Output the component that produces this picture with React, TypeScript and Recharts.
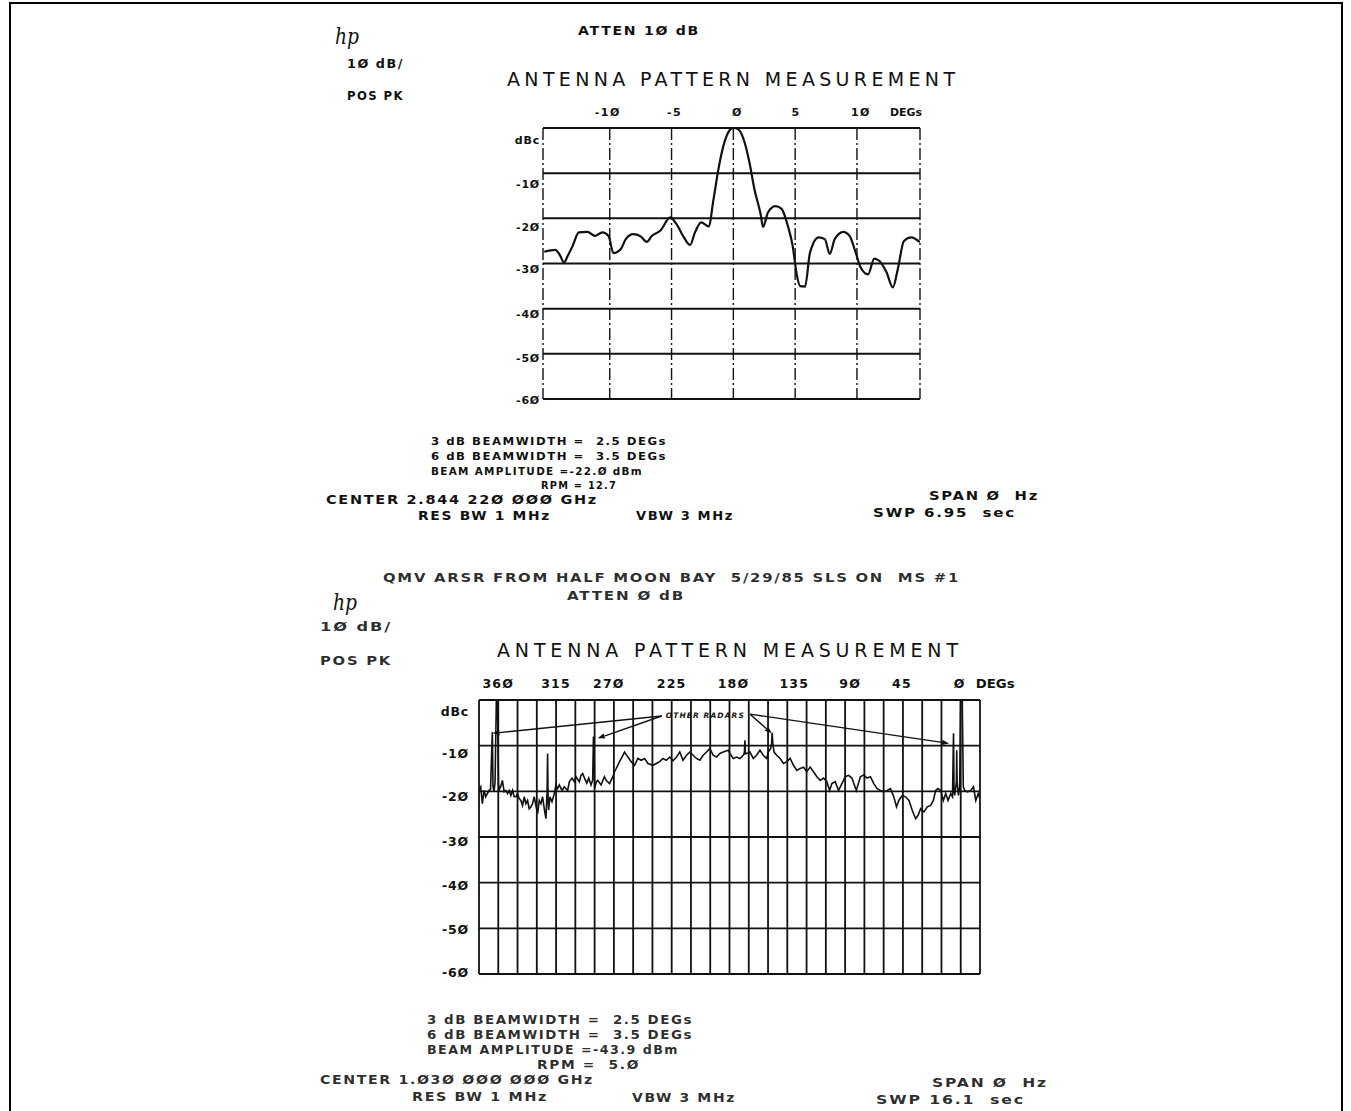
import React from 'react';
import { LineChart, Line, XAxis, YAxis, ReferenceLine, ReferenceDot } from 'recharts';

// ---------------- DATA ----------------
// Top plot: antenna pattern vs angle (deg), level in dBc
const topAngles = [
  -15.3, -14.4, -14.0, -13.7, -13.4, -13.0, -12.5, -11.8, -11.2, -10.6,
  -10.1, -9.7, -9.1, -8.7, -8.1, -7.5, -7.0, -6.6, -5.9, -5.1,
  -4.6, -4.0, -3.5, -3.1, -2.6, -2.0, -1.6, -1.2, -0.8, -0.3,
  0, 0.4, 0.9, 1.3, 1.7, 2.2, 2.4, 2.8, 3.4, 3.9,
  4.4, 4.8, 5.1, 5.4, 5.8, 6.2, 6.9, 7.4, 7.8, 8.2,
  8.9, 9.4, 9.9, 10.3, 10.9, 11.4, 11.8, 12.4, 12.9, 13.3,
  13.8, 14.4, 15.1,
];
const topLevels = [
  -27.4, -27.0, -28.3, -29.8, -28.3, -26.1, -23.1, -23.0, -23.9, -23.1,
  -23.9, -27.7, -26.8, -24.6, -23.5, -24.0, -25.2, -23.9, -22.7, -19.8,
  -21.3, -24.2, -25.9, -23.1, -20.9, -21.8, -15.7, -9.0, -3.9, -0.5,
  0, -0.3, -3.1, -7.6, -13.5, -19.0, -21.9, -18.7, -17.3, -17.9,
  -21.6, -26.1, -32.0, -35.0, -35.1, -27.6, -24.2, -24.6, -27.9, -24.6,
  -23.0, -23.9, -27.6, -30.9, -32.4, -28.9, -29.4, -32.0, -35.3, -31.3,
  -25.0, -24.2, -25.3,
];
const topTickValues = [-10, -5, 0, 5, 10];
const topTickLabels = ['-1Ø', '-5', 'Ø', '5', '1Ø'];
const topAxisUnit = 'DEGs';
const topDomain = [-15.4, 15.1];
const topVerticals = [-15.4, -10, -5, 0, 5, 10, 15.1];

const levelTicks = [0, -10, -20, -30, -40, -50, -60];
const levelTickLabels = ['dBc', '-1Ø', '-2Ø', '-3Ø', '-4Ø', '-5Ø', '-6Ø'];

// Bottom plot: full rotation, azimuth (deg) vs level
const bottomAngles = [
  375, 373.7, 372.4, 371.1, 369.8, 368.5, 367.2, 366.0, 365.2, 364.6,
  364.1, 363.3, 362.5, 361.5, 360.6, 359.8, 359.0, 358.1, 356.8, 355.4,
  354.1, 352.8, 351.5, 350.2, 348.9, 347.6, 346.3, 345.0, 343.7, 342.4,
  341.1, 339.8, 338.5, 337.2, 335.9, 334.6, 333.3, 332.0, 330.7, 329.4,
  328.1, 326.8, 325.5, 324.2, 322.9, 322.0, 321.6, 321.2, 320.8, 319.8,
  318.2, 316.4, 315.1, 313.8, 312.5, 310.4, 308.6, 306.0, 304.7, 302.6,
  300.8, 299.5, 296.9, 295.6, 294.3, 292.9, 291.1, 289.6, 287.8, 286.5,
  285.9, 285.4, 285.0, 283.8, 282.6, 280.0, 277.4, 276.0, 273.4, 270.8,
  269.5, 268.2, 265.6, 263.0, 261.7, 259.1, 256.5, 253.9, 251.3, 248.7,
  246.1, 243.5, 239.6, 237.0, 234.4, 231.8, 229.2, 226.6, 224.0, 221.3,
  218.7, 216.2, 213.5, 210.9, 208.3, 205.7, 203.1, 200.5, 197.9, 195.3,
  192.7, 190.1, 187.5, 184.9, 181.0, 179.7, 177.1, 174.5, 171.9, 169.3,
  168.4, 168.0, 167.6, 166.7, 164.1, 161.5, 158.9, 156.3, 153.7, 151.1,
  149.8, 147.9, 147.2, 146.8, 146.2, 145.3, 143.3, 140.6, 138.0, 135.4,
  132.8, 130.2, 127.6, 125.0, 122.4, 119.8, 117.2, 114.6, 112.0, 109.4,
  106.8, 104.2, 102.1, 100.3, 97.7, 95.1, 92.5, 89.9, 87.3, 84.7,
  81.3, 78.1, 75.5, 72.9, 70.3, 67.7, 65.1, 62.5, 59.9, 57.3,
  54.7, 52.1, 50.0, 48.2, 45.5, 42.9, 40.3, 37.7, 35.1, 33.3,
  31.2, 28.6, 26.0, 23.4, 21.3, 19.5, 17.7, 15.6, 13.5, 11.7,
  9.9, 7.8, 6.4, 5.9, 5.6, 5.2, 4.7, 3.4, 3.1, 2.8,
  1.8, 0.8, 0.2, -1.2, -2.0, -3.1, -5.2, -7.8, -9.9, -11.7,
  -13.6, -15.0,
];
const bottomLevels = [
  -19.5, -19.0, -22.7, -19.8, -21.2, -20.5, -19.8, -19.5, -12.0, -7.0,
  -19.0, -20.0, -18.0, -0.3, -0.3, -18.5, -19.5, -19.0, -17.6, -20.1,
  -19.8, -20.5, -19.8, -20.9, -19.8, -21.2, -21.2, -20.5, -21.6, -22.0,
  -23.1, -21.2, -22.7, -22.0, -23.8, -23.4, -22.7, -21.2, -23.1, -24.9,
  -22.0, -22.7, -21.2, -23.8, -26.0, -20.0, -11.7, -22.0, -24.1, -21.2,
  -22.3, -20.5, -18.6, -19.4, -18.6, -19.8, -19.0, -19.8, -17.9, -17.1,
  -17.9, -16.8, -17.9, -16.5, -16.1, -17.1, -18.2, -17.1, -18.6, -17.5,
  -8.0, -10.0, -19.4, -18.0, -17.6, -18.6, -16.8, -17.6, -18.3, -16.8,
  -15.7, -15.0, -13.5, -12.1, -11.4, -12.5, -13.5, -14.3, -12.8, -13.2,
  -12.8, -13.9, -14.3, -13.9, -13.5, -12.8, -13.2, -12.5, -13.3, -12.5,
  -11.4, -13.2, -12.1, -11.4, -12.1, -12.8, -13.2, -12.1, -11.4, -10.6,
  -12.1, -12.5, -11.7, -11.4, -11.0, -11.7, -12.8, -12.5, -12.8, -12.1,
  -11.5, -8.8, -11.8, -11.7, -11.4, -12.8, -12.1, -11.0, -12.1, -12.8,
  -11.4, -10.6, -9.5, -7.2, -9.8, -11.4, -12.1, -12.8, -13.9, -13.5,
  -12.8, -14.3, -15.4, -15.0, -14.7, -15.7, -14.7, -15.7, -16.8, -17.6,
  -17.1, -17.9, -19.8, -18.3, -17.9, -19.8, -18.3, -16.8, -16.5, -17.1,
  -19.8, -16.8, -16.4, -17.1, -16.8, -18.3, -19.4, -19.8, -20.1, -19.8,
  -19.4, -21.2, -23.4, -22.0, -20.9, -21.2, -22.0, -24.2, -26.0, -25.3,
  -23.8, -24.5, -23.4, -23.1, -22.0, -19.8, -19.4, -19.8, -22.0, -20.5,
  -22.0, -20.5, -21.2, -12.0, -7.3, -20.0, -20.9, -18.0, -11.0, -18.0,
  -20.9, -19.0, -0.4, -0.4, -19.0, -19.8, -20.1, -19.8, -19.0, -22.0,
  -20.5, -21.6,
];
const bottomTickValues = [360, 315, 270, 225, 180, 135, 90, 45, 0];
const bottomTickLabels = ['36Ø', '315', '27Ø', '225', '18Ø', '135', '9Ø', '45', 'Ø'];
const bottomAxisUnit = 'DEGs';
const bottomDomain = [-15, 375];
const bottomVerticals = [
  -15, 0, 15, 30, 45, 60, 75, 90, 105, 120, 135, 150, 165, 180,
  195, 210, 225, 240, 255, 270, 285, 300, 315, 330, 345, 360, 375,
];

const radarLabel = 'OTHER RADARS';
const radarLabelAt = { x: 199.2, y: -3.3 };
const radarArrowFrom = [
  { x: 232.8, y: -3.5 }, { x: 232.8, y: -3.5 }, { x: 164.0, y: -3.1 }, { x: 164.0, y: -3.1 },
];
const radarArrowTo = [
  { x: 364.5, y: -7.3 }, { x: 282.6, y: -8.4 }, { x: 147.1, y: -7.3 }, { x: 9.1, y: -9.5 },
];

// Page texts (content)
const topPageTexts = [
  { t: 'ATTEN 1Ø dB', x: 578, cy: 31, w: 122, s: 11.5 },
  { t: '1Ø dB/', x: 347, cy: 64, w: 57, s: 11.5 },
  { t: 'POS PK', x: 347, cy: 96, w: 57, s: 11.5 },
  { t: 'ANTENNA PATTERN MEASUREMENT', x: 507, cy: 79, w: 448, s: 19, thin: true },
  { t: '3 dB BEAMWIDTH =  2.5 DEGs', x: 431, cy: 441, w: 236, s: 11 },
  { t: '6 dB BEAMWIDTH =  3.5 DEGs', x: 431, cy: 456, w: 236, s: 11 },
  { t: 'BEAM AMPLITUDE =-22.Ø dBm', x: 431, cy: 471, w: 212, s: 11 },
  { t: 'RPM = 12.7', x: 541, cy: 485, w: 76, s: 11 },
  { t: 'CENTER 2.844 22Ø ØØØ GHz', x: 326, cy: 500, w: 272, s: 12 },
  { t: 'RES BW 1 MHz', x: 418, cy: 516, w: 133, s: 11.5 },
  { t: 'VBW 3 MHz', x: 636, cy: 516, w: 98, s: 11.5 },
  { t: 'SPAN Ø  Hz', x: 929, cy: 496, w: 110, s: 12 },
  { t: 'SWP 6.95  sec', x: 873, cy: 513, w: 143, s: 11.5 },
];
const bottomPageTexts = [
  { t: 'QMV ARSR FROM HALF MOON BAY  5/29/85 SLS ON  MS #1', x: 383, cy: 578, w: 577, s: 12 },
  { t: 'ATTEN Ø dB', x: 567, cy: 596, w: 118, s: 12 },
  { t: '1Ø dB/', x: 320, cy: 627, w: 72, s: 12 },
  { t: 'POS PK', x: 320, cy: 661, w: 72, s: 12 },
  { t: 'ANTENNA PATTERN MEASUREMENT', x: 497, cy: 650, w: 461, s: 19, thin: true },
  { t: '3 dB BEAMWIDTH =  2.5 DEGs', x: 427, cy: 1020, w: 266, s: 12 },
  { t: '6 dB BEAMWIDTH =  3.5 DEGs', x: 427, cy: 1035, w: 266, s: 12 },
  { t: 'BEAM AMPLITUDE =-43.9 dBm', x: 427, cy: 1050, w: 252, s: 12 },
  { t: 'RPM =  5.Ø', x: 537, cy: 1065, w: 103, s: 12 },
  { t: 'CENTER 1.Ø3Ø ØØØ ØØØ GHz', x: 320, cy: 1080, w: 274, s: 12 },
  { t: 'RES BW 1 MHz', x: 412, cy: 1097, w: 136, s: 12 },
  { t: 'VBW 3 MHz', x: 632, cy: 1098, w: 104, s: 12 },
  { t: 'SPAN Ø  Hz', x: 932, cy: 1083, w: 116, s: 12 },
  { t: 'SWP 16.1  sec', x: 876, cy: 1100, w: 149, s: 12 },
];

// ---------------- STYLE ----------------
const FONT = '"DejaVu Sans", "Liberation Sans", sans-serif';
const INK = '#111';
const topXDx = [-2, 3, 4, 1, 4];
const bottomXDx = [0, 0, -5, 0, 4, 7, 5, -1, -1];
const topYOff = [12, 11, 9, 6, 5, 4, 1];
const bottomYOff = [11, 8, 5, 4, 3, 1, -2];

const topData = topAngles.map((a, i) => ({ deg: a, db: topLevels[i] }));
const bottomData = bottomAngles.map((a, i) => ({ deg: a, db: bottomLevels[i] }));

const TopXTick = (props: any) => {
  const { x, y, payload } = props;
  const i = topTickValues.indexOf(payload.value);
  if (i < 0) return null;
  return (
    <g>
      <text x={x + topXDx[i]} y={y - 12.5} textAnchor="middle" fontFamily={FONT} fontWeight="bold" fontSize={11} letterSpacing={1.5} fill={INK}>
        {topTickLabels[i]}
      </text>
      {i === topTickValues.length - 1 && (
        <text x={x + 33} y={y - 12.5} fontFamily={FONT} fontWeight="bold" fontSize={11} textLength={32} lengthAdjust="spacingAndGlyphs" fill={INK}>
          {topAxisUnit}
        </text>
      )}
    </g>
  );
};

const BottomXTick = (props: any) => {
  const { x, y, payload } = props;
  const i = bottomTickValues.indexOf(payload.value);
  if (i < 0) return null;
  return (
    <g>
      <text x={x + bottomXDx[i]} y={y - 12.5} textAnchor="middle" fontFamily={FONT} fontWeight="bold" fontSize={12.5} letterSpacing={1.2} fill={INK}>
        {bottomTickLabels[i]}
      </text>
      {i === bottomTickValues.length - 1 && (
        <text x={x + 15} y={y - 12.5} fontFamily={FONT} fontWeight="bold" fontSize={12.5} textLength={39} lengthAdjust="spacingAndGlyphs" fill={INK}>
          {bottomAxisUnit}
        </text>
      )}
    </g>
  );
};

const makeYTick = (offsets: number[], dx: number, size: number) => (props: any) => {
  const { x, y, payload } = props;
  const i = levelTicks.indexOf(payload.value);
  if (i < 0) return null;
  return (
    <text x={x - dx} y={y + offsets[i] + size * 0.36} textAnchor="end" fontFamily={FONT} fontWeight="bold" fontSize={size} letterSpacing={0.8} fill={INK}>
      {levelTickLabels[i]}
    </text>
  );
};
const TopYTick = makeYTick(topYOff, 3, 11);
const BottomYTick = makeYTick(bottomYOff, 10, 12.5);

const ArrowShape = (props: any) => {
  const { x1, y1, x2, y2 } = props;
  if ([x1, y1, x2, y2].some((v) => typeof v !== 'number' || isNaN(v))) return null;
  const ang = Math.atan2(y2 - y1, x2 - x1);
  const L = 7;
  const W = 2.6;
  const bx = x2 - L * Math.cos(ang);
  const by = y2 - L * Math.sin(ang);
  const px = -Math.sin(ang) * W;
  const py = Math.cos(ang) * W;
  return (
    <g>
      <line x1={x1} y1={y1} x2={bx} y2={by} stroke={INK} strokeWidth={1.4} />
      <polygon points={`${x2},${y2} ${bx + px},${by + py} ${bx - px},${by - py}`} fill={INK} />
    </g>
  );
};

const RadarLabelShape = (props: any) => {
  const { cx, cy } = props;
  if (typeof cx !== 'number') return null;
  return (
    <text x={cx} y={cy + 3} textAnchor="middle" fontFamily={FONT} fontWeight="bold" fontStyle="italic" fontSize={7.5} textLength={78} lengthAdjust="spacing" fill={INK}>
      {radarLabel}
    </text>
  );
};

const PageText = ({ item, bold }: any) => (
  <text
    x={item.x}
    y={item.cy + item.s * 0.365}
    fontFamily={FONT}
    fontWeight={item.thin ? 'normal' : 'bold'}
    fontSize={item.s}
    letterSpacing={item.thin ? 0 : 1.4}
    textLength={item.w}
    lengthAdjust={item.thin ? 'spacing' : 'spacingAndGlyphs'}
    fill={INK}
    fillOpacity={bold || item.thin ? 1 : 0.9}
    style={{ whiteSpace: 'pre' }}
  >
    {item.t}
  </text>
);

const TopChart = () => (
  <div style={{ position: 'absolute', left: 470, top: 90 }}>
    <LineChart width={490} height={320} data={topData} margin={{ top: 8, right: 40, bottom: 11, left: 0 }}>
      <XAxis
        dataKey="deg"
        type="number"
        orientation="top"
        domain={topDomain}
        allowDataOverflow
        ticks={topTickValues}
        interval={0}
        tickSize={0}
        tickMargin={0}
        axisLine={false}
        tickLine={false}
        height={30}
        tick={TopXTick}
      />
      <YAxis
        type="number"
        domain={[-60, 0]}
        allowDataOverflow
        ticks={levelTicks}
        interval={0}
        tickSize={0}
        tickMargin={0}
        axisLine={false}
        tickLine={false}
        width={73}
        tick={TopYTick}
      />
      {topVerticals.map((v) => (
        <ReferenceLine key={'tv' + v} x={v} stroke={INK} strokeWidth={1.4} strokeDasharray="12 3 2 3" ifOverflow="visible" />
      ))}
      {levelTicks.map((v) => (
        <ReferenceLine key={'th' + v} y={v} stroke={INK} strokeWidth={2} ifOverflow="visible" />
      ))}
      <Line dataKey="db" type="monotone" stroke={INK} strokeWidth={2.2} dot={false} activeDot={false} isAnimationActive={false} />
    </LineChart>
  </div>
);

const BottomChart = () => (
  <div style={{ position: 'absolute', left: 400, top: 660 }}>
    <LineChart width={660} height={330} data={bottomData} margin={{ top: 10, right: 80, bottom: 16, left: 0 }}>
      <XAxis
        dataKey="deg"
        type="number"
        orientation="top"
        reversed
        domain={bottomDomain}
        allowDataOverflow
        ticks={bottomTickValues}
        interval={0}
        tickSize={0}
        tickMargin={0}
        axisLine={false}
        tickLine={false}
        height={30}
        tick={BottomXTick}
      />
      <YAxis
        type="number"
        domain={[-60, 0]}
        allowDataOverflow
        ticks={levelTicks}
        interval={0}
        tickSize={0}
        tickMargin={0}
        axisLine={false}
        tickLine={false}
        width={79}
        tick={BottomYTick}
      />
      {bottomVerticals.map((v) => (
        <ReferenceLine key={'bv' + v} x={v} stroke={INK} strokeWidth={1.8} ifOverflow="visible" />
      ))}
      {levelTicks.map((v) => (
        <ReferenceLine key={'bh' + v} y={v} stroke={INK} strokeWidth={1.9} ifOverflow="visible" />
      ))}
      {radarArrowFrom.map((f, i) => (
        <ReferenceLine key={'ar' + i} segment={[f, radarArrowTo[i]]} ifOverflow="visible" shape={ArrowShape} />
      ))}
      <ReferenceDot x={radarLabelAt.x} y={radarLabelAt.y} r={0} ifOverflow="visible" shape={RadarLabelShape} />
      <Line dataKey="db" type="linear" stroke={INK} strokeWidth={1.6} dot={false} activeDot={false} isAnimationActive={false} />
    </LineChart>
  </div>
);

export default function App() {
  return (
    <div style={{ position: 'absolute', left: 0, top: 0, width: 1351, height: 1111, background: '#fff', overflow: 'hidden' }}>
      <TopChart />
      <BottomChart />
      <svg width={1351} height={1111} style={{ position: 'absolute', left: 0, top: 0, pointerEvents: 'none' }}>
        <rect x={10} y={3} width={1332} height={1130} fill="none" stroke="#000" strokeWidth={2} />
        <text x={335} y={44} fontFamily='"DejaVu Serif", serif' fontStyle="italic" fontSize={22} textLength={24} lengthAdjust="spacingAndGlyphs" fill={INK}>hp</text>
        <text x={333} y={610} fontFamily='"DejaVu Serif", serif' fontStyle="italic" fontSize={22} textLength={24} lengthAdjust="spacingAndGlyphs" fill={INK}>hp</text>
        {topPageTexts.map((it, i) => (
          <PageText key={'tp' + i} item={it} bold />
        ))}
        {bottomPageTexts.map((it, i) => (
          <PageText key={'bp' + i} item={it} bold={false} />
        ))}
      </svg>
    </div>
  );
}
